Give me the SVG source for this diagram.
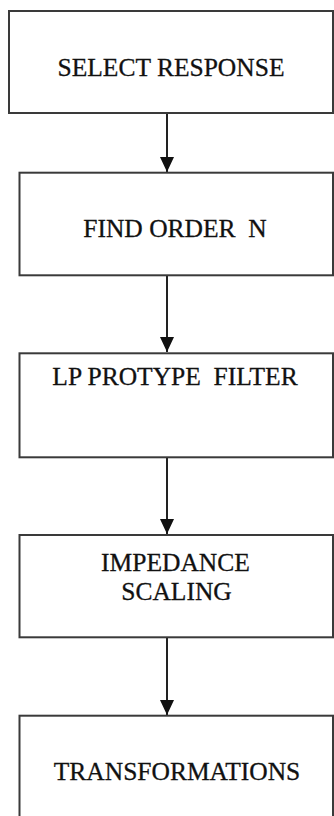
<svg xmlns="http://www.w3.org/2000/svg" width="334" height="816" viewBox="0 0 334 816">
<style>
.box{fill:#fff;stroke:#3a3a3a;stroke-width:2}
.lbl{font-family:"Liberation Serif","Times New Roman",serif;font-size:25.5px;fill:#111;stroke:#111;stroke-width:0.3;text-anchor:middle;white-space:pre}
.conn{stroke:#222;stroke-width:2;fill:none}
</style>
<defs>
<marker id="ah" viewBox="0 0 15 14" refX="15" refY="7" markerWidth="15" markerHeight="14" markerUnits="userSpaceOnUse" orient="auto">
<path d="M0,0 L15,7 L0,14 Z" fill="#111"/>
</marker>
</defs>
<rect width="334" height="816" fill="#fff"/>
<g id="connectors">
<line class="conn" x1="167" y1="113" x2="167" y2="172" marker-end="url(#ah)"/>
<line class="conn" x1="167" y1="275" x2="167" y2="352" marker-end="url(#ah)"/>
<line class="conn" x1="167" y1="457" x2="167" y2="534" marker-end="url(#ah)"/>
<line class="conn" x1="167" y1="637" x2="167" y2="715" marker-end="url(#ah)"/>
</g>
<g id="n1">
<rect class="box" x="9" y="11" width="324" height="102"/>
<text class="lbl" x="171" y="76" xml:space="preserve">SELECT RESPONSE</text>
</g>
<g id="n2">
<rect class="box" x="19.5" y="172.7" width="313.5" height="102.6"/>
<text class="lbl" x="175" y="237" xml:space="preserve">FIND ORDER  N</text>
</g>
<g id="n3">
<rect class="box" x="19.5" y="353.3" width="313.5" height="104"/>
<text class="lbl" x="175" y="385" xml:space="preserve">LP PROTYPE  FILTER</text>
</g>
<g id="n4">
<rect class="box" x="19.5" y="535" width="313.5" height="102.3"/>
<text class="lbl" x="175.5" y="571">IMPEDANCE</text>
<text class="lbl" x="176.5" y="600">SCALING</text>
</g>
<g id="n5">
<rect class="box" x="19.5" y="715.7" width="313.5" height="120"/>
<text class="lbl" x="177" y="780">TRANSFORMATIONS</text>
</g>
</svg>
